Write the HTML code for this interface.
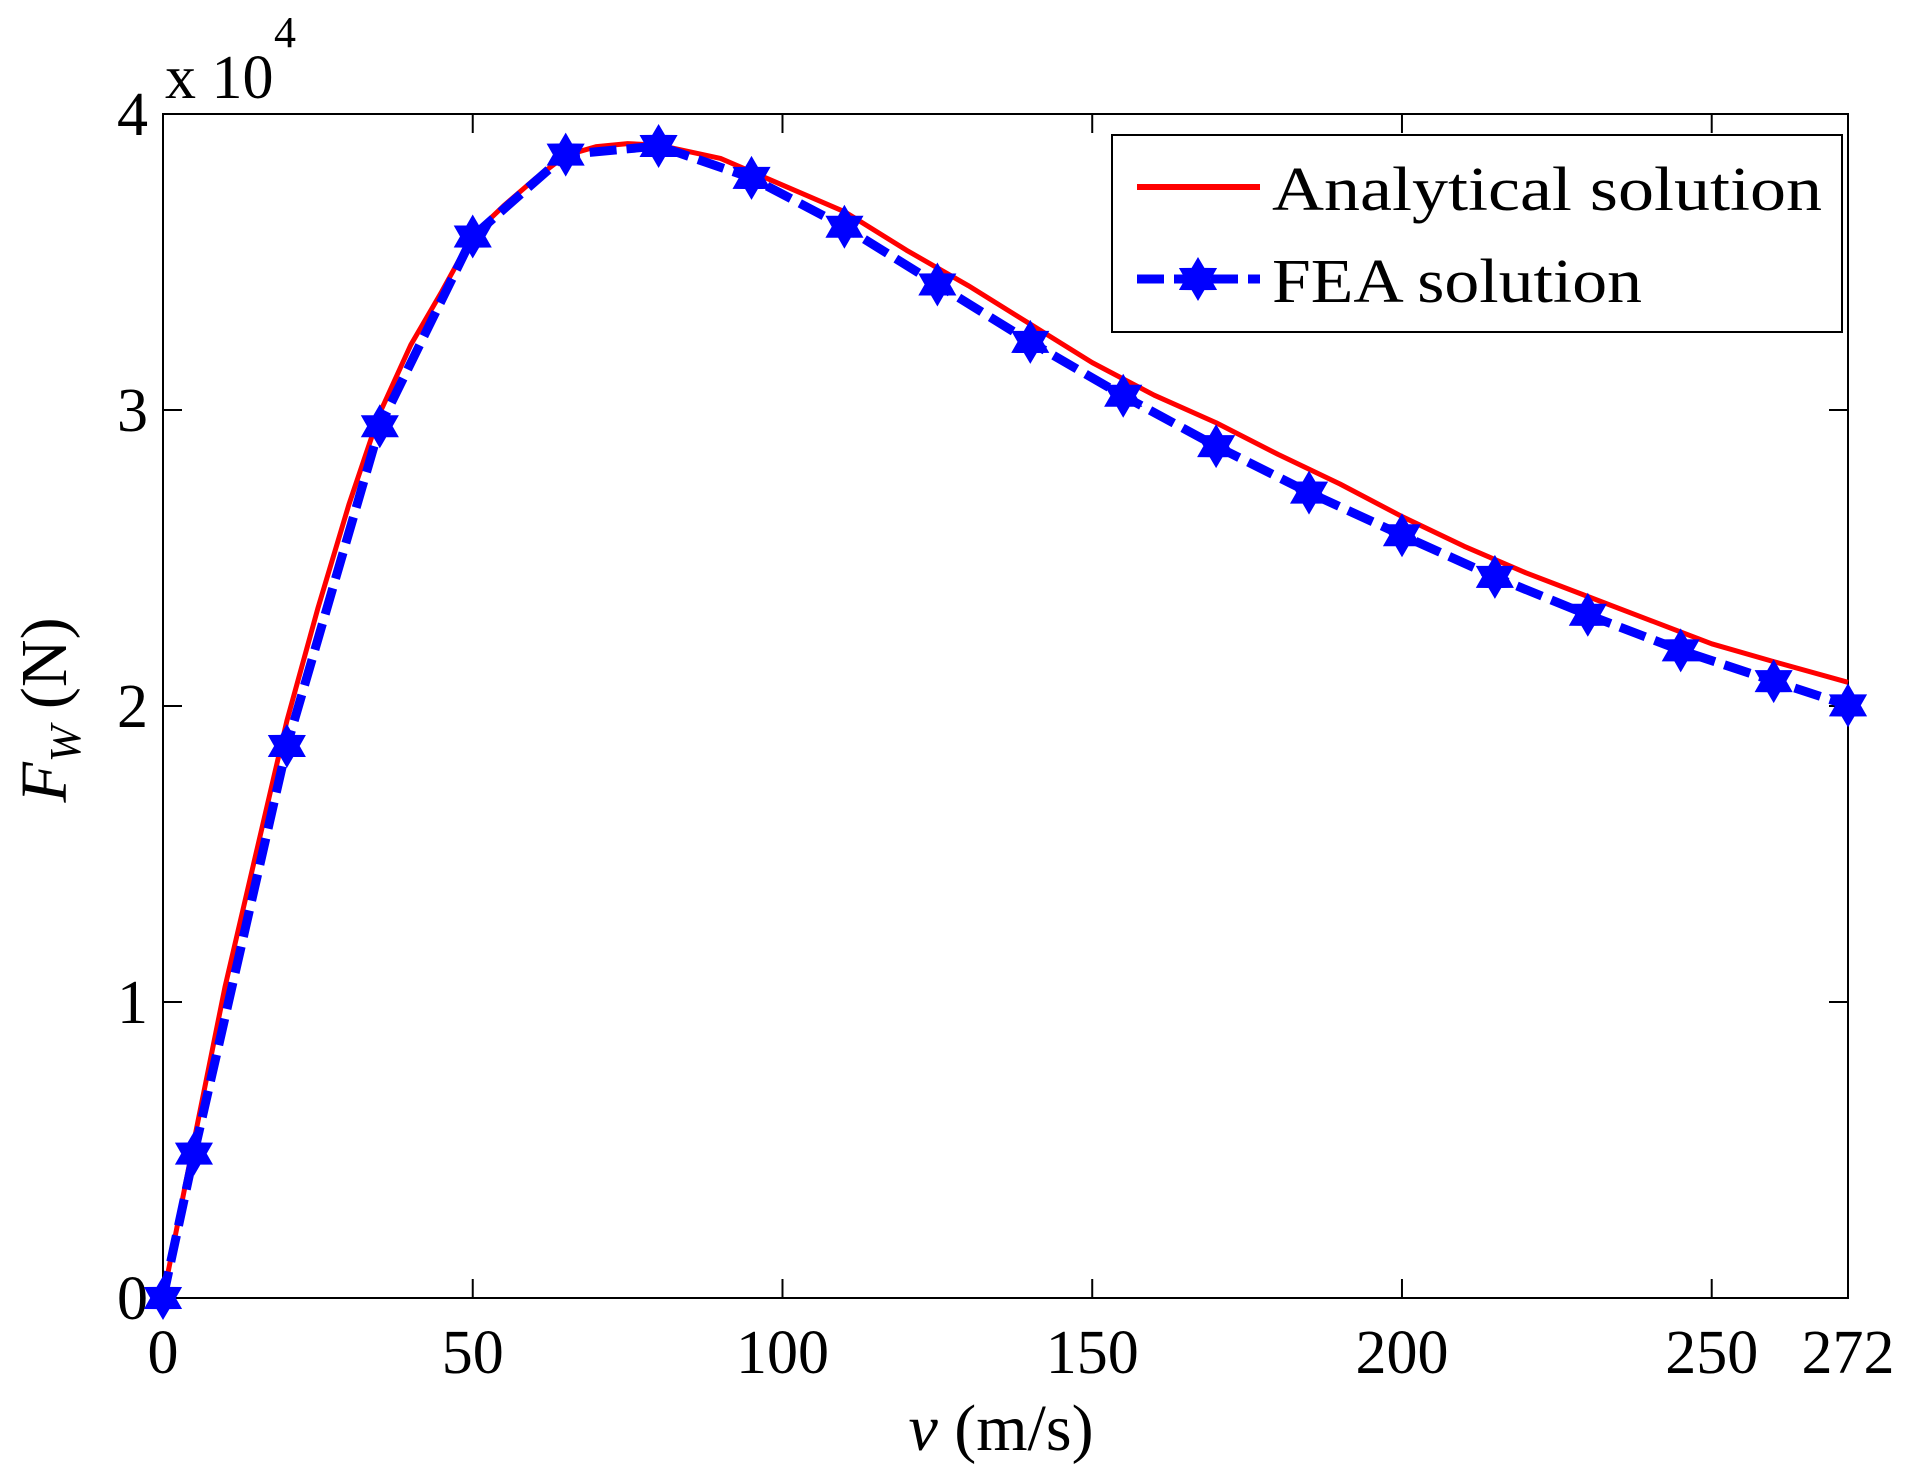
<!DOCTYPE html>
<html><head><meta charset="utf-8">
<style>
html,body{margin:0;padding:0;background:#fff;}
svg{display:block;}
text{font-family:"Liberation Serif",serif;fill:#000;}
</style></head>
<body>
<svg id="chart" width="1914" height="1474" viewBox="0 0 1914 1474" xmlns="http://www.w3.org/2000/svg">
<rect width="1914" height="1474" fill="#fff"/>
<g id="axes"></g>
<g id="series"></g>
<g>
  <rect x="1112" y="135" width="730" height="197" fill="#fff" stroke="#000" stroke-width="2"/>
  <line x1="1137" y1="187" x2="1260" y2="187" stroke="#ff0000" stroke-width="6"/>
  <text x="1272" y="210" font-size="62" textLength="550" lengthAdjust="spacingAndGlyphs">Analytical solution</text>
  <line x1="1137" y1="279" x2="1260" y2="279" stroke="#0000ff" stroke-width="9" stroke-dasharray="27 10"/>
  <polygon id="legstar" fill="#0000ff"/>
  <text x="1272" y="302" font-size="62" textLength="370" lengthAdjust="spacingAndGlyphs">FEA solution</text>
</g>
<text x="165" y="98" font-size="62">x 10</text>
<text x="274" y="47" font-size="44">4</text>
<text transform="translate(66,710) rotate(-90)" text-anchor="middle" font-size="66"><tspan font-style="italic">F</tspan><tspan font-style="italic" font-size="44" dy="14">W</tspan><tspan dy="-14"> (N)</tspan></text>
<text x="1001" y="1450" text-anchor="middle" font-size="66"><tspan font-style="italic">v</tspan> (m/s)</text>
</svg>
<script>
const xTicks = [0, 50, 100, 150, 200, 250, 272];
const yTicks = [0, 1, 2, 3, 4];
const analyticalV = [0,5,10,15,20,25,30,35,40,45,50,55,60,65,70,75,80,90,100,110,120,130,140,150,160,170,180,190,200,210,220,230,240,250,260,272];
const analyticalF = [0,0.53,1.05,1.5,1.95,2.33,2.68,2.99,3.22,3.4,3.59,3.69,3.78,3.86,3.89,3.9,3.895,3.85,3.76,3.67,3.54,3.42,3.29,3.16,3.05,2.957,2.85,2.75,2.64,2.54,2.45,2.37,2.29,2.21,2.15,2.08];
const feaV = [0,5,20,35,50,65,80,95,110,125,140,155,170,185,200,215,230,245,260,272];
const feaF = [0,0.488,1.865,2.945,3.586,3.863,3.892,3.784,3.619,3.424,3.23,3.048,2.878,2.721,2.577,2.436,2.308,2.188,2.084,2.002];

const L=163,R=1848,T=114,B=1298,XMAX=272,YMAX=4;
function sx(v){return L+(R-L)*v/XMAX;}
function sy(f){return B-(B-T)*f/YMAX;}
const NS='http://www.w3.org/2000/svg';
function mk(tag,attrs,parent){const e=document.createElementNS(NS,tag);for(const k in attrs)e.setAttribute(k,attrs[k]);parent.appendChild(e);return e;}
function star(cx,cy,r){const pts=[];for(let i=0;i<12;i++){const a=-Math.PI/2+i*Math.PI/6;const rr=i%2?r*0.58:r;pts.push((cx+rr*Math.cos(a)).toFixed(1)+','+(cy+rr*Math.sin(a)).toFixed(1));}return pts.join(' ');}

const axes=document.getElementById('axes');
const frame=mk('rect',{x:L,y:T,width:R-L,height:B-T,fill:'none',stroke:'#000','stroke-width':2},axes);


xTicks.forEach(v=>{
  const x=sx(v);
  const t1=mk('line',{x1:x,y1:B,x2:x,y2:B-19,stroke:'#000','stroke-width':2},axes);
  
  
  const t2=mk('line',{x1:x,y1:T,x2:x,y2:T+19,stroke:'#000','stroke-width':2},axes);
  
  
  const lb=mk('text',{x:x,y:1373,'text-anchor':'middle','font-size':62},axes);
  lb.textContent=v;
  
  
});
yTicks.forEach(f=>{
  const y=sy(f);
  const t1=mk('line',{x1:L,y1:y,x2:L+19,y2:y,stroke:'#000','stroke-width':2},axes);
  
  
  const t2=mk('line',{x1:R,y1:y,x2:R-19,y2:y,stroke:'#000','stroke-width':2},axes);
  
  
  const lb=mk('text',{x:148,y:y+21,'text-anchor':'end','font-size':62},axes);
  lb.textContent=f;
  
  
});

const ser=document.getElementById('series');
const red=mk('polyline',{points:analyticalV.map((v,i)=>sx(v)+','+sy(analyticalF[i])).join(' '),fill:'none',stroke:'#ff0000','stroke-width':5,'stroke-linejoin':'round'},ser);


const blue=mk('polyline',{points:feaV.map((v,i)=>sx(v)+','+sy(feaF[i])).join(' '),fill:'none',stroke:'#0000ff','stroke-width':9,'stroke-dasharray':'27 10'},ser);


feaV.forEach((v,i)=>{
  const s=mk('polygon',{points:star(sx(v),sy(feaF[i]),22),fill:'#0000ff'},ser);
  
  
});
document.getElementById('legstar').setAttribute('points',star(1198,279,22));
</script>
</body></html>
